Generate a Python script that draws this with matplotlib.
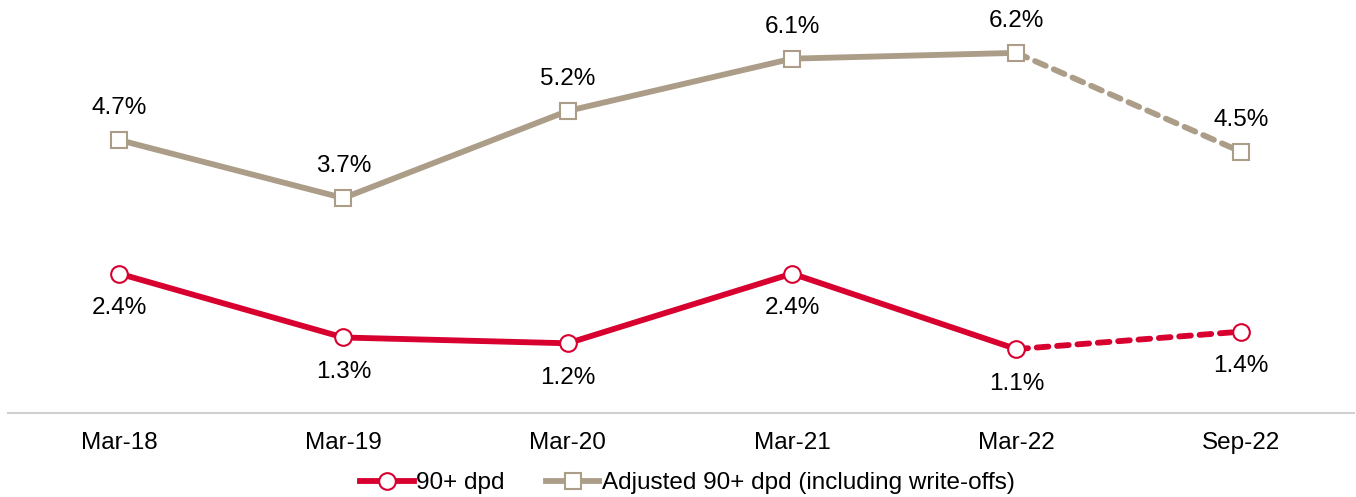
import matplotlib.pyplot as plt
from matplotlib.lines import Line2D

plt.rcParams['font.family'] = ['Liberation Sans', 'DejaVu Sans']

periods = ['Mar-18', 'Mar-19', 'Mar-20', 'Mar-21', 'Mar-22', 'Sep-22']
dpd90 = [2.4, 1.3, 1.2, 2.4, 1.1, 1.4]
adjusted = [4.7, 3.7, 5.2, 6.1, 6.2, 4.5]

red = '#D7002F'
tan = '#AC9D88'

fig = plt.figure(figsize=(13.56, 4.97), dpi=100)
ax = fig.add_axes([8 / 1356, 84 / 497, 1346 / 1356, 413 / 497])

x = list(range(len(periods)))
for vals, col in [(dpd90, red), (adjusted, tan)]:
    ax.plot(x[:5], vals[:5], color=col, lw=4.2, solid_capstyle='round', zorder=2)
    ax.plot(x[4:], vals[4:], color=col, lw=4.2, ls=(0, (2.0, 1.5)),
            dash_capstyle='round', zorder=2)
    mk = 'o' if col == red else 's'
    ax.plot(x, vals, ls='none', marker=mk, ms=12, mfc='white', mec=col,
            mew=1.5, zorder=3)

for i in x:
    ax.annotate(f'{adjusted[i]:.1f}%', (i, adjusted[i]), xytext=(0, 23),
                textcoords='offset points', ha='center', va='center', fontsize=17.5)
    ax.annotate(f'{dpd90[i]:.1f}%', (i, dpd90[i]), xytext=(0, -25),
                textcoords='offset points', ha='center', va='center', fontsize=17.5)

ax.set_xlim(-0.495, 5.505)
ax.set_ylim(0, 7.11)
for s in ['top', 'right', 'left']:
    ax.spines[s].set_visible(False)
ax.spines['bottom'].set_color('#D0D0D0')
ax.spines['bottom'].set_linewidth(1.5)
ax.set_yticks([])
ax.set_xticks(x)
ax.set_xticklabels(periods, fontsize=17.5)
ax.tick_params(axis='x', length=0, pad=14)

handles = [
    Line2D([], [], color=red, lw=4.2, marker='o', ms=12, mfc='white', mec=red, mew=1.5),
    Line2D([], [], color=tan, lw=4.2, marker='s', ms=12, mfc='white', mec=tan, mew=1.5),
]
fig.legend(handles, ['90+ dpd', 'Adjusted 90+ dpd (including write-offs)'],
           loc='center', bbox_to_anchor=(0.507, 14 / 497), ncol=2, frameon=False,
           fontsize=17.5, handlelength=2.2, handletextpad=0.1, columnspacing=1.7)

fig.savefig('out.png', dpi=100)
